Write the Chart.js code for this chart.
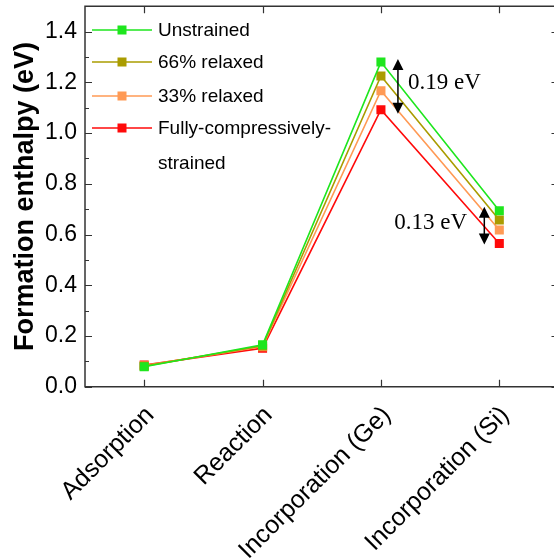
<!DOCTYPE html>
<html>
<head>
<meta charset="utf-8">
<script src="https://cdn.jsdelivr.net/npm/chart.js@4"></script>
<style>
  html, body { margin: 0; padding: 0; background: #fff; overflow: hidden; }
  #wrap { width: 554px; height: 559px; overflow: hidden; }
  #grafico { width: 560px; height: 559px; }
</style>
</head>
<body>
<div id="wrap"><canvas id="grafico" width="560" height="559"></canvas></div>
<script>
// --- Datos ---
const etapas = ["Adsorption", "Reaction", "Incorporation (Ge)", "Incorporation (Si)"];
const unstrained = [0.079, 0.165, 1.280, 0.694];
const relaxed66 = [0.081, 0.161, 1.225, 0.657];
const relaxed33 = [0.083, 0.158, 1.167, 0.618];
const fullyStrained = [0.085, 0.152, 1.092, 0.565];
const yTicks = [0.0, 0.2, 0.4, 0.6, 0.8, 1.0, 1.2, 1.4];
const seriesNames = ["Unstrained", "66% relaxed", "33% relaxed", "Fully-compressively-"];

const colores = ["#1ee61e", "#aa9c00", "#ff9a55", "#ff0a0a"];
const series = [unstrained, relaxed66, relaxed33, fullyStrained];

const ejeColor = "#333";

// --- Marco, ticks hacia dentro, leyenda y anotaciones ---
const extras = {
  id: "extras",
  afterDraw(chart) {
    const { ctx, chartArea: a, scales } = chart;
    const xs = scales.x, ys = scales.y;
    ctx.save();
    ctx.strokeStyle = ejeColor;
    ctx.lineWidth = 1.5;
    ctx.beginPath();
    ctx.rect(a.left, a.top, a.right - a.left, a.bottom - a.top);
    ctx.stroke();

    // ticks eje y (mayores y menores)
    ctx.lineWidth = 1.2;
    for (let v = 0; v <= 1.5001; v += 0.1) {
      const y = Math.round(ys.getPixelForValue(v)) + 0.5;
      const major = Math.round(v * 10) % 2 === 0;
      const len = major ? 7 : 4;
      ctx.beginPath();
      ctx.moveTo(a.left, y); ctx.lineTo(a.left + len, y);
      ctx.moveTo(a.right, y); ctx.lineTo(a.right - len, y);
      ctx.stroke();
    }
    // ticks eje x
    etapas.forEach((_, i) => {
      const x = Math.round(xs.getPixelForValue(i)) + 0.5;
      ctx.beginPath();
      ctx.moveTo(x, a.bottom); ctx.lineTo(x, a.bottom - 7);
      ctx.moveTo(x, a.top); ctx.lineTo(x, a.top + 7);
      ctx.stroke();
    });

    // leyenda
    const filas = [30, 62, 96, 128];
    ctx.font = "19px Arial, 'Liberation Sans', sans-serif";
    ctx.textBaseline = "middle";
    ctx.textAlign = "left";
    seriesNames.forEach((n, i) => {
      const y = filas[i];
      ctx.strokeStyle = colores[i];
      ctx.lineWidth = 1.6;
      ctx.beginPath();
      ctx.moveTo(92, y); ctx.lineTo(152, y);
      ctx.stroke();
      ctx.fillStyle = colores[i];
      ctx.fillRect(122 - 4.5, y - 4.5, 9, 9);
      ctx.fillStyle = "#000";
      ctx.fillText(n, 158, y + 1);
    });
    ctx.fillText("strained", 158, 164);

    // flechas dobles
    const flecha = (x, y1, y2) => {
      ctx.strokeStyle = "#000";
      ctx.fillStyle = "#000";
      ctx.lineWidth = 1.5;
      ctx.beginPath();
      ctx.moveTo(x, y1 + 8); ctx.lineTo(x, y2 - 8);
      ctx.stroke();
      ctx.beginPath();
      ctx.moveTo(x, y1); ctx.lineTo(x - 5.5, y1 + 11); ctx.lineTo(x + 5.5, y1 + 11); ctx.closePath();
      ctx.moveTo(x, y2); ctx.lineTo(x - 5.5, y2 - 11); ctx.lineTo(x + 5.5, y2 - 11); ctx.closePath();
      ctx.fill();
    };
    const xGe = xs.getPixelForValue(2) + 17;
    flecha(xGe, ys.getPixelForValue(unstrained[2]) - 3, ys.getPixelForValue(fullyStrained[2]) + 4);
    const xSi = xs.getPixelForValue(3) - 15;
    flecha(xSi, ys.getPixelForValue(unstrained[3]) - 4, ys.getPixelForValue(fullyStrained[3]) + 1);

    ctx.font = "23px 'Times New Roman', 'Liberation Serif', serif";
    ctx.fillStyle = "#000";
    ctx.textBaseline = "middle";
    ctx.fillText((unstrained[2] - fullyStrained[2]).toFixed(2) + " eV", xGe + 10, 83);
    ctx.fillText("0.13 eV", xSi - 90, 223);
    ctx.restore();
  }
};

const ctx = document.getElementById("grafico");
new Chart(ctx, {
  type: "line",
  data: {
    labels: etapas,
    datasets: series.map((d, i) => ({
      label: seriesNames[i],
      data: d,
      borderColor: colores[i],
      backgroundColor: colores[i],
      borderWidth: 1.6,
      pointStyle: "rect",
      pointRadius: 6.4,
      pointBorderWidth: 0,
      pointBackgroundColor: colores[i],
      tension: 0
    }))
  },
  options: {
    responsive: false,
    animation: false,
    devicePixelRatio: 1,
    layout: { autoPadding: false, padding: { top: 6.3, right: 1.5, left: 0, bottom: 0 } },
    plugins: { legend: { display: false }, tooltip: { enabled: false } },
    scales: {
      x: {
        offset: true,
        grid: { display: false, drawTicks: false },
        border: { display: false },
        ticks: {
          color: "#000",
          font: { family: "Arial, 'Liberation Sans', sans-serif", size: 25 },
          maxRotation: 45,
          minRotation: 45,
          padding: 14,
          labelOffset: 6,
          autoSkip: false
        },
        afterFit: s => { s.height = 172.3; s.paddingLeft = 0; s.paddingRight = 0; }
      },
      y: {
        min: 0,
        max: 1.5,
        grid: { display: false, drawTicks: false },
        border: { display: false },
        afterBuildTicks: s => { s.ticks = yTicks.map(v => ({ value: v })); },
        ticks: {
          color: "#000",
          font: { family: "Arial, 'Liberation Sans', sans-serif", size: 23 },
          padding: 8,
          callback: v => Number(v).toFixed(1)
        },
        title: {
          display: true,
          text: "Formation enthalpy (eV)",
          color: "#000",
          font: { family: "Arial, 'Liberation Sans', sans-serif", size: 27, weight: "bold" },
          padding: { top: 9, bottom: 0 }
        },
        afterFit: s => { s.width = 85; s.paddingTop = 0; s.paddingBottom = 0; }
      }
    }
  },
  plugins: [extras]
});
</script>
</body>
</html>
